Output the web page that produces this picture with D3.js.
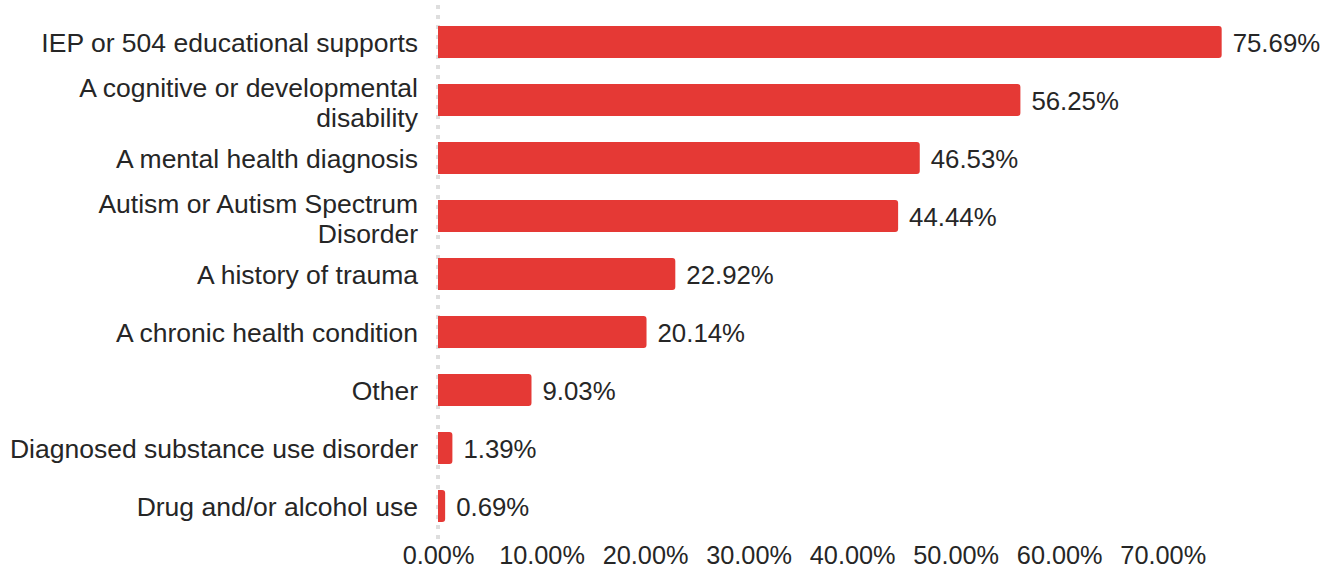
<!DOCTYPE html>
<html>
<head>
<meta charset="utf-8">
<script src="https://cdn.jsdelivr.net/npm/d3@7"></script>
<style>
  html, body { margin: 0; padding: 0; background: #fff; }
  svg { display: block; }
  text { font-family: "Liberation Sans", Arial, Helvetica, sans-serif; fill: #262626; }
</style>
</head>
<body>
<svg id="chart" width="1332" height="572"></svg>
<script>
const categories = [
  "IEP or 504 educational supports",
  "A cognitive or developmental disability",
  "A mental health diagnosis",
  "Autism or Autism Spectrum Disorder",
  "A history of trauma",
  "A chronic health condition",
  "Other",
  "Diagnosed substance use disorder",
  "Drug and/or alcohol use"
];
const values = [75.69, 56.25, 46.53, 44.44, 22.92, 20.14, 9.03, 1.39, 0.69];
const tickValues = [0, 10, 20, 30, 40, 50, 60, 70];

const left = 438;
const barColor = "#e53935";
const labelSize = 26.5;

const svg = d3.select("#chart");

const x = d3.scaleLinear().domain([0, 80]).range([left, left + 828.3]);
const y = d3.scaleBand()
  .domain(categories)
  .range([13, 535])
  .paddingInner(0.45)
  .paddingOuter(0.225);

// dotted baseline at zero
svg.append("line")
  .attr("x1", x(0)).attr("x2", x(0))
  .attr("y1", 5).attr("y2", 540)
  .attr("stroke", "#dedede")
  .attr("stroke-width", 4)
  .attr("stroke-dasharray", "4,6");

// bars with rounded right end
const r = 3;
function barPath(v, cat) {
  const x0 = x(0), x1 = x(v), y0 = y(cat), h = y.bandwidth();
  const rr = Math.min(r, (x1 - x0) / 2);
  return `M${x0},${y0}H${x1 - rr}Q${x1},${y0} ${x1},${y0 + rr}V${y0 + h - rr}Q${x1},${y0 + h} ${x1 - rr},${y0 + h}H${x0}Z`;
}
svg.append("g").selectAll("path")
  .data(categories)
  .join("path")
  .attr("d", (c, i) => barPath(values[i], c))
  .attr("fill", barColor);

// value labels
svg.append("g").selectAll("text")
  .data(categories)
  .join("text")
  .attr("x", (c, i) => x(values[i]) + 11)
  .attr("y", c => y(c) + y.bandwidth() / 2 + 9.5)
  .attr("font-size", 25.8)
  .text((c, i) => values[i].toFixed(2) + "%");

// category labels, wrapped to fit the left margin
const maxW = 420;
const catG = svg.append("g");
const measure = svg.append("text").attr("font-size", labelSize).attr("visibility", "hidden");
function wrap(str) {
  const words = str.split(" ");
  const lines = [];
  let cur = "";
  words.forEach(w => {
    const test = cur ? cur + " " + w : w;
    measure.text(test);
    if (measure.node().getComputedTextLength() > maxW && cur) {
      lines.push(cur);
      cur = w;
    } else cur = test;
  });
  lines.push(cur);
  return lines;
}
categories.forEach(c => {
  const lines = wrap(c);
  const n = lines.length;
  const cy = y(c) + y.bandwidth() / 2;
  lines.forEach((ln, i) => {
    catG.append("text")
      .attr("x", left - 20)
      .attr("y", cy + 10 + (i - (n - 1) / 2) * 30 + (n - 1) * 2)
      .attr("text-anchor", "end")
      .attr("font-size", labelSize)
      .text(ln);
  });
});
measure.remove();

// x axis tick labels
const xAxis = d3.axisBottom(x)
  .tickValues(tickValues)
  .tickSize(0)
  .tickPadding(0)
  .tickFormat(d => d.toFixed(2) + "%");
const axG = svg.append("g").attr("transform", "translate(0,546)").call(xAxis);
axG.select(".domain").remove();
axG.selectAll("text")
  .attr("font-size", 25.3)
  .attr("fill", "#262626")
  .attr("dy", null)
  .attr("y", 18)
  .style("font-family", "'Liberation Sans', Arial, sans-serif");
</script>
</body>
</html>
